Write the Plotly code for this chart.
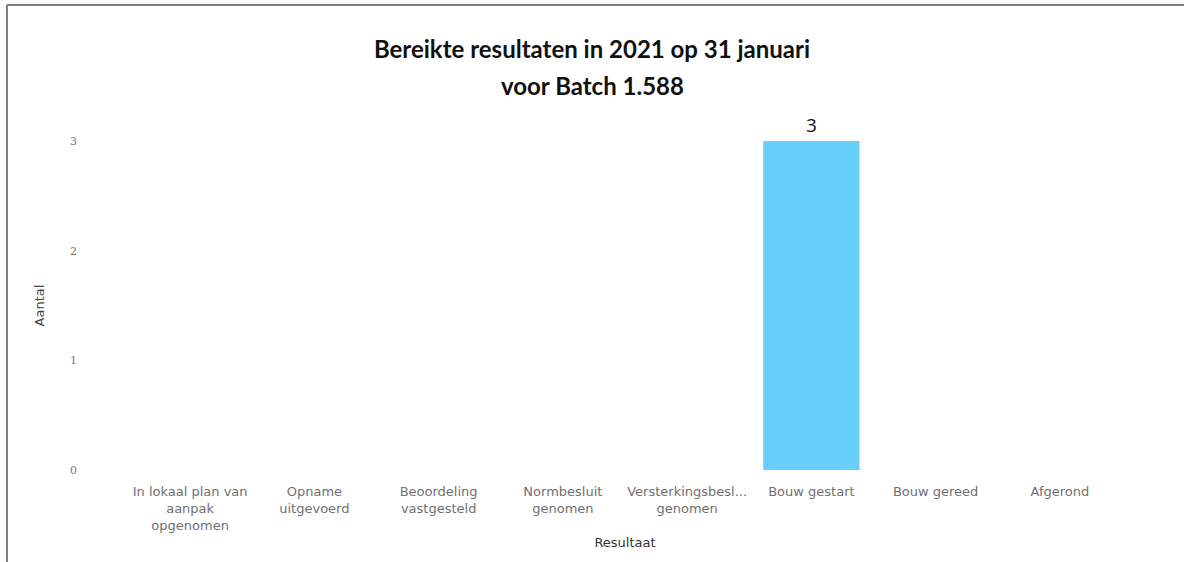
import plotly.graph_objects as go

# data
resultaten = ['In lokaal plan van aanpak opgenomen', 'Opname uitgevoerd',
              'Beoordeling vastgesteld', 'Normbesluit genomen',
              'Versterkingsbesluit genomen', 'Bouw gestart', 'Bouw gereed', 'Afgerond']
tick_labels = ['In lokaal plan van<br>aanpak<br>opgenomen', 'Opname<br>uitgevoerd',
               'Beoordeling<br>vastgesteld', 'Normbesluit<br>genomen',
               'Versterkingsbesl...<br>genomen', 'Bouw gestart', 'Bouw gereed', 'Afgerond']
aantal = [0, 0, 0, 0, 0, 3, 0, 0]
titel = ['Bereikte resultaten in 2021 op 31 januari', 'voor Batch 1.588']

W, H = 1184, 562
L, R, T, B = 128, 62, 141, 92
pw, ph = W - L - R, H - T - B


def px_x(v):
    return (v - L) / pw


def px_y(v):
    return (H - B - v) / ph


title_font = dict(family='Lato, sans-serif', size=24, color='#111111')

fig = go.Figure()
fig.add_trace(go.Bar(
    x=resultaten, y=aantal,
    text=[str(v) if v else '' for v in aantal],
    textposition='outside', cliponaxis=False,
    textfont=dict(family='Open Sans, sans-serif', size=19, color='#111111'),
    marker=dict(color='#66d0fa', line_width=0),
    hoverinfo='x+y',
))

fig.update_layout(
    width=W, height=H,
    margin=dict(l=L, r=R, t=T, b=B),
    paper_bgcolor='white', plot_bgcolor='white',
    bargap=0.225,
    showlegend=False,
    title=dict(text='<b>' + titel[0] + '</b>', x=0.5, xanchor='center',
               y=1 - 50 / H, yanchor='middle', font=title_font),
    annotations=[dict(text='<b>' + titel[1] + '</b>', xref='paper', yref='paper',
                      x=0.5 - (L - R) / 2 / pw, y=px_y(85), xanchor='center',
                      yanchor='middle', showarrow=False, font=title_font)],
    # frame around the visual
    shapes=[
        dict(type='line', xref='paper', yref='paper', x0=px_x(7), x1=px_x(W + 5),
             y0=px_y(5), y1=px_y(5), line=dict(color='#808080', width=2)),
        dict(type='line', xref='paper', yref='paper', x0=px_x(7), x1=px_x(7),
             y0=px_y(5), y1=px_y(H + 5), line=dict(color='#808080', width=2)),
    ],
)

fig.update_xaxes(
    tickvals=resultaten, ticktext=tick_labels,
    tickfont=dict(family='DejaVu Sans, sans-serif', size=13, color='#707070'),
    title=dict(text='Resultaat', standoff=6,
               font=dict(family='DejaVu Sans, sans-serif', size=13, color='#333333')),
    showline=False, showgrid=False, zeroline=False, ticks='',
    ticklabelstandoff=12,
)
fig.update_yaxes(
    range=[0, 3], tickvals=[0, 1, 2, 3],
    tickfont=dict(family='DejaVu Serif, serif', size=11, color='#777777'),
    title=dict(text='Aantal', standoff=22,
               font=dict(family='DejaVu Sans, sans-serif', size=13, color='#444444')),
    showline=False, showgrid=False, zeroline=False, ticks='',
    ticklabelstandoff=50,
)

fig.write_html('out.html', config={'displayModeBar': False},
               post_script="document.body.style.margin='0';")
